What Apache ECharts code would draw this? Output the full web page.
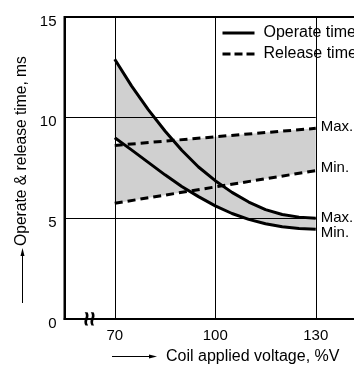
<!DOCTYPE html>
<html>
<head>
<meta charset="utf-8">
<script src="https://cdn.jsdelivr.net/npm/echarts@6/dist/echarts.min.js"></script>
<style>
html,body{margin:0;padding:0;background:#fff;}
#chart{width:354px;height:365px;}
</style>
</head>
<body>
<div id="chart"></div>
<script>
// ---- data ----
const voltage = [70, 75, 80, 85, 90, 95, 100, 105, 110, 115, 120, 125, 130];
const operateMax = [12.9, 11.58, 10.4, 9.34, 8.38, 7.55, 6.87, 6.29, 5.81, 5.43, 5.19, 5.06, 5.0];
const operateMin = [9.0, 8.4, 7.78, 7.16, 6.58, 6.08, 5.62, 5.24, 4.95, 4.73, 4.58, 4.5, 4.46];
const releaseVoltage = [70, 100, 130];
const releaseMax = [8.62, 9.05, 9.47];
const releaseMin = [5.75, 6.56, 7.37];
const xTickLabels = [70, 100, 130];
const yTickLabels = [0, 5, 10, 15];
const xGridValues = [70, 100, 130];
const yGridValues = [5, 10];
const legendNames = ['Operate time', 'Release time'];
const endLabelTexts = ['Max.', 'Min.'];

const FONT = '"Liberation Sans", Arial, Helvetica, sans-serif';
const FILL = '#d0d0d0';

const chart = echarts.init(document.getElementById('chart'), null, {renderer: 'canvas'});

function bandItem(xs, hi, lo) {
  return function (params, api) {
    const top = xs.map((x, i) => api.coord([x, hi[i]]));
    const bot = xs.map((x, i) => api.coord([x, lo[i]])).reverse();
    return {type: 'polygon', shape: {points: top.concat(bot)}, style: {fill: FILL}};
  };
}

function curve(name, xs, ys, dashed, label, dy) {
  return {
    type: 'line', name: name, z: 3,
    data: xs.map((x, i) => [x, ys[i]]),
    symbol: 'none', smooth: false, silent: true,
    lineStyle: {color: '#000', width: 3, type: dashed ? [8, 5] : 'solid', join: 'round'},
    itemStyle: {color: '#000'},
    endLabel: {show: true, formatter: label, color: '#000', fontSize: 15, fontFamily: FONT, distance: 5, offset: [0, dy]},
    emphasis: {disabled: true}
  };
}

const xMin = 55, xMax = 145;

chart.setOption({
  animation: false,
  grid: {left: 64.5, top: 17, width: 301.5, height: 302, show: true, borderColor: '#000', borderWidth: 2,
    backgroundColor: 'transparent', containLabel: false, outerBoundsMode: 'none'},
  xAxis: {
    type: 'value', min: xMin, max: xMax, interval: 5,
    axisLine: {show: true, lineStyle: {color: '#000', width: 2}},
    axisTick: {show: false},
    splitLine: {show: false},
    axisLabel: {
      color: '#000', fontSize: 15, fontFamily: FONT, margin: 9, hideOverlap: false,
      formatter: v => xTickLabels.indexOf(v) >= 0 ? String(v) : ''
    }
  },
  yAxis: {
    type: 'value', min: 0, max: 15, interval: 5,
    axisLine: {show: true, lineStyle: {color: '#000', width: 2}},
    axisTick: {show: false},
    splitLine: {show: false},
    axisLabel: {
      color: '#000', fontSize: 15, fontFamily: FONT, margin: 8, verticalAlign: 'top', lineHeight: 9,
      formatter: v => yTickLabels.indexOf(v) >= 0 ? String(v) : ''
    }
  },
  legend: {
    data: [
      {name: legendNames[0], icon: 'rect'},
      {name: legendNames[1], icon: 'path://M0,0h8v3h-8z M12,0h8v3h-8z M24,0h8v3h-8z'}
    ],
    orient: 'vertical', left: 217.5, top: 20,
    itemWidth: 32, itemHeight: 3, itemGap: 5, selectedMode: false,
    itemStyle: {color: '#000', borderWidth: 0},
    textStyle: {color: '#000', fontSize: 16, fontFamily: FONT, lineHeight: 16, padding: [0, 0, 0, 4]}
  },
  series: [
    {type: 'custom', name: 'bandOperate', z: 1, silent: true, data: [[70, 5]], renderItem: bandItem(voltage, operateMax, operateMin)},
    {type: 'custom', name: 'bandRelease', z: 1, silent: true, data: [[70, 5]], renderItem: bandItem(releaseVoltage, releaseMax, releaseMin)},
    {
      type: 'line', name: 'grid', z: 2, data: [], silent: true, symbol: 'none',
      markLine: {
        silent: true, symbol: 'none', z: 2, animation: false,
        label: {show: false},
        lineStyle: {color: '#000', width: 1, type: 'solid'},
        emphasis: {disabled: true},
        data: xGridValues.map(v => ({xAxis: v}))
          .concat(yGridValues.map(v => [{coord: [xMin, v]}, {coord: [xTickLabels[xTickLabels.length - 1], v]}]))
      }
    },
    curve(legendNames[1], releaseVoltage, releaseMax, true, endLabelTexts[0], -1),
    curve(legendNames[1], releaseVoltage, releaseMin, true, endLabelTexts[1], -3),
    curve(legendNames[0], voltage, operateMax, false, endLabelTexts[0], 0),
    curve(legendNames[0], voltage, operateMin, false, endLabelTexts[1], 4)
  ]
});

// decorations: axis titles with arrows and axis break mark
const breakPt = chart.convertToPixel({gridIndex: 0}, [62.8, 0]);
chart.setOption({
  graphic: [
    {type: 'text', x: 21.5, y: 151, rotation: Math.PI / 2, z: 10,
      style: {text: 'Operate & release time, ms', fill: '#000', font: '15.6px ' + FONT, textAlign: 'center', textVerticalAlign: 'middle'}},
    {type: 'line', z: 10, shape: {x1: 22.5, y1: 303, x2: 22.5, y2: 255}, style: {stroke: '#000', lineWidth: 1}},
    {type: 'polygon', z: 10, shape: {points: [[22.5, 248], [20.5, 256], [24.5, 256]]}, style: {fill: '#000'}},
    {type: 'text', x: 166, y: 356.5, z: 10,
      style: {text: 'Coil applied voltage, %V', fill: '#000', font: '16px ' + FONT, textAlign: 'left', textVerticalAlign: 'middle'}},
    {type: 'line', z: 10, shape: {x1: 112, y1: 356.5, x2: 150, y2: 356.5}, style: {stroke: '#000', lineWidth: 1}},
    {type: 'polygon', z: 10, shape: {points: [[157, 356.5], [149, 354.5], [149, 358.5]]}, style: {fill: '#000'}},
    {type: 'text', x: breakPt[0], y: breakPt[1], rotation: Math.PI / 2, z: 10,
      style: {text: '≈', fill: '#000', font: 'bold 26px ' + FONT, textAlign: 'center', textVerticalAlign: 'middle'}}
  ]
});
</script>
</body>
</html>
